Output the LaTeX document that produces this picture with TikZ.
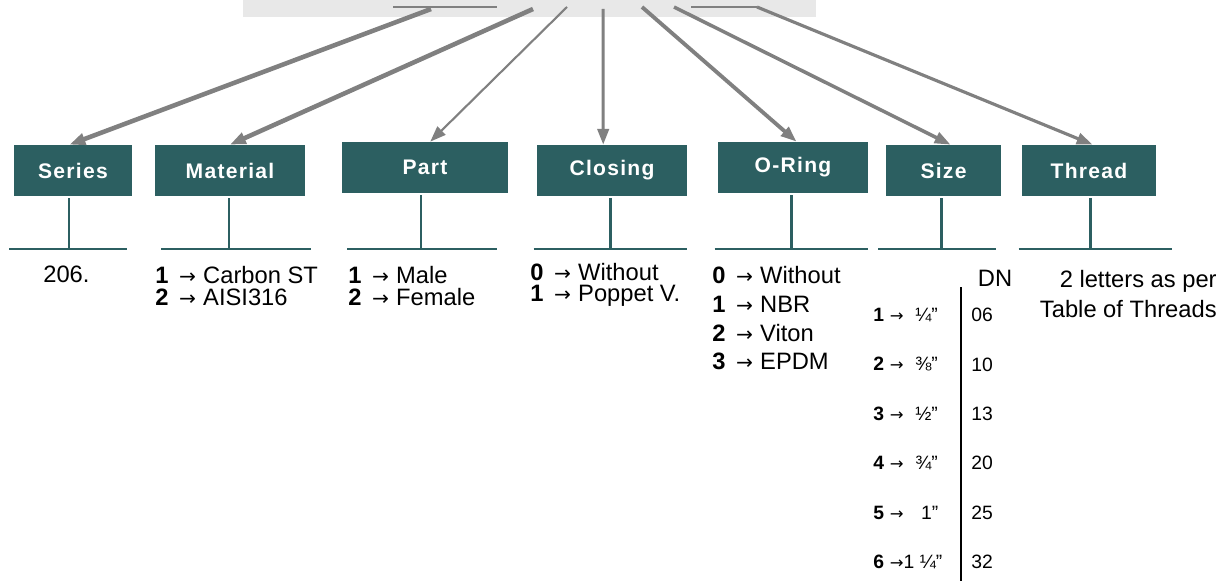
\documentclass[tikz,border=0pt]{standalone}
\usepackage{fontspec}
\setmainfont{Liberation Sans}
\newfontfamily\labelfont[LetterSpace=6]{Liberation Sans}
\newfontfamily\arrowfont[Scale=0.85]{DejaVu Sans}
\usetikzlibrary{arrows.meta, positioning, calc}
\definecolor{boxteal}{HTML}{2C5F61}
\definecolor{arrowgray}{HTML}{808080}
\definecolor{bandgray}{HTML}{E8E8E8}
\newcommand\pick[2]{\textbf{#1}\hspace{0.45em}{\arrowfont →}\hspace{0.3em}#2}
\newcommand\sizepick[2]{\textbf{#1}\hspace{0.3em}{\arrowfont →}#2}
\lineskiplimit=-6pt\relax

\begin{document}
\begin{tikzpicture}[
    x=0.02cm, y=-0.02cm,
    field/.style={rectangle, fill=boxteal, text=white, font=\labelfont\bfseries\fontsize{12}{14}\selectfont, minimum height=1.02cm, inner sep=0pt},
    band/.style={rectangle, fill=bandgray, minimum width=11.46cm, minimum height=0.34cm, inner sep=0pt},
    arrow/.style={-{Triangle[length=9pt, width=6.5pt]}, draw=arrowgray},
    bandline/.style={draw=arrowgray, line width=1.7pt},
    stem/.style={draw=boxteal, line width=1.7pt},
    list/.style={font=\fontsize{13.5}{12.5}\selectfont, align=left, inner sep=0pt, anchor=north west},
    sizerow/.style={font=\fontsize{11}{13}\selectfont, inner sep=0pt, anchor=west}
]
\useasboundingbox (0,0) rectangle (1227,581);

\node[band] (band) at (529.5,8.5) {};
\coordinate (cut1a) at (393,7);
\coordinate (cut1b) at (497,7);
\coordinate (cut2a) at (691,7);
\coordinate (cut2b) at (757,7);
\draw[bandline] (cut1a) -- (cut1b);
\draw[bandline] (cut2a) -- (cut2b);

\coordinate (s1) at (431,9);
\coordinate (s2) at (533,9);
\coordinate (s3) at (567,7);
\coordinate (s4) at (603,9);
\coordinate (s5) at (642,7);
\coordinate (s6) at (674,7);
\coordinate (s7) at (757,7);

\node[field, minimum width=2.36cm] (series) at (73,170.5) {Series};
\node[field, minimum width=3cm] (material) at (230,170.5) {Material};
\node[field, minimum width=3.32cm] (part) at (425,167.5) {Part};
\node[field, minimum width=3cm] (closing) at (612,170.5) {Closing};
\node[field, minimum width=3cm] (oring) at (793,167.5) {O-Ring};
\node[field, minimum width=2.3cm] (size) at (943.5,170.5) {Size};
\node[field, minimum width=2.68cm] (thread) at (1089,170.5) {Thread};

\draw[arrow, line width=2.6pt] (s1) -- ([xshift=-2pt]series.north);
\draw[arrow, line width=2.6pt] (s2) -- (material.north);
\draw[arrow, line width=1.2pt] (s3) -- ([xshift=3pt]part.north);
\draw[arrow, line width=1.7pt] (s4) -- ([xshift=-5pt]closing.north);
\draw[arrow, line width=2.2pt] (s5) -- ([xshift=2pt]oring.north);
\draw[arrow, line width=2pt] (s6) -- ([xshift=4pt]size.north);
\draw[arrow, line width=1.8pt] (s7) -- ([xshift=2pt]thread.north);

\foreach \b/\s/\c/\w in {series/-4/-1/118, material/-1/7/150, part/-4/1/150, closing/-2/0/153, oring/-2/0/153, size/-2.5/-4/118, thread/1/5/153} {
    \coordinate (\b-top) at ($(\b.south)+(\s,2)$);
    \coordinate (\b-foot) at (\b-top |- 0,249);
    \draw[stem] (\b-top) -- (\b-foot);
    \draw[stem] ($(\b-foot)+(\c-\w/2,0)$) -- ($(\b-foot)+(\c+\w/2,0)$);
}

\node[list] (serieslist) at (43,266) {206.};
\node[list] (materiallist) at (155,266) {\pick{1}{Carbon ST}\\\pick{2}{AISI316}};
\node[list] (partlist) at (348,266) {\pick{1}{Male}\\\pick{2}{Female}};
\node[list, font=\fontsize{13.5}{12}\selectfont] (closinglist) at (530,263) {\pick{0}{Without}\\\pick{1}{Poppet V.}};
\node[list, font=\fontsize{13.5}{16.4}\selectfont] (oringlist) at (712,266) {\pick{0}{Without}\\\pick{1}{NBR}\\\pick{2}{Viton}\\\pick{3}{EPDM}};

\node[font=\fontsize{13.5}{15}\selectfont, inner sep=0pt] (dn) at (995,278) {DN};
\coordinate (sizeline-top) at (961,287);
\coordinate (sizeline-bottom) at (961,581);
\draw[line width=1.1pt] (sizeline-top) -- (sizeline-bottom);
\foreach \i/\f/\n [count=\k from 0] in {1/\hspace{0.6em}¼”/06, 2/\hspace{0.6em}⅜”/10, 3/\hspace{0.6em}½”/13, 4/\hspace{0.6em}¾”/20, 5/\hspace{0.9em}1”/25, 6/1 ¼”/32} {
    \node[sizerow] (size-in\i) at (873,315+49.4*\k) {\sizepick{\i}{\f}};
    \node[sizerow] (size-dn\i) at (971,315+49.4*\k) {\n};
}

\node[font=\fontsize{13.5}{17}\selectfont, align=right, inner sep=0pt, anchor=north east] (threadnote) at (1217,270) {2 letters as per\\Table of Threads};
\end{tikzpicture}
\end{document}
